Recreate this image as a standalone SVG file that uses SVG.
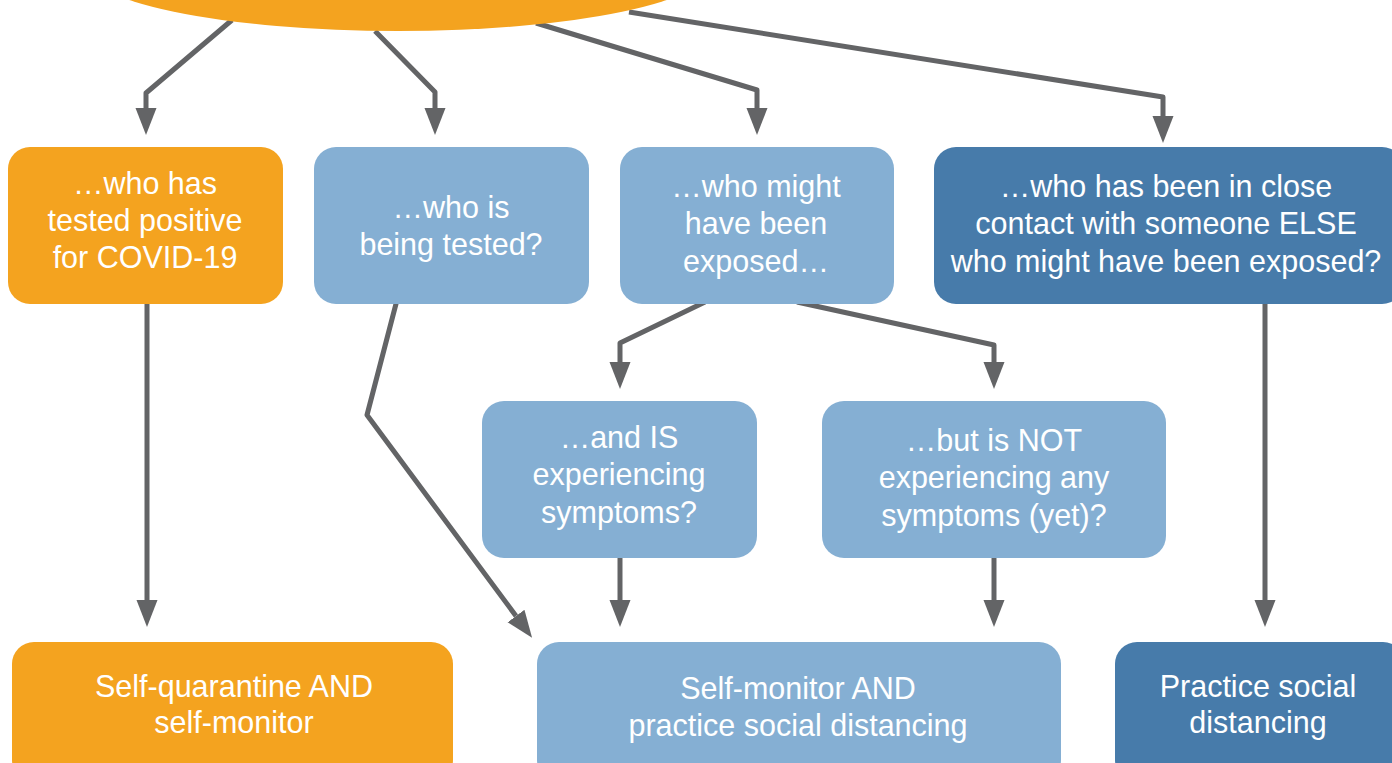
<svg xmlns="http://www.w3.org/2000/svg" width="1392" height="763" viewBox="0 0 1392 763">
<style>
.c{fill:none;stroke:#636466;stroke-width:5;stroke-linejoin:round;marker-end:url(#ah)}
.or{fill:#F4A31F}
.lb{fill:#85AFD3}
.db{fill:#477BAA}
text{font-family:"Liberation Sans",Arial,sans-serif;font-size:30.5px;fill:#ffffff;text-anchor:middle}
</style>
<defs>
<marker id="ah" markerUnits="userSpaceOnUse" markerWidth="28" markerHeight="22" refX="0" refY="10.5" orient="auto">
<path d="M0,0 L27,10.5 L0,21 z" fill="#636466"/>
</marker>
</defs>
<g id="connectors">
<path class="c" d="M232,20 L146,93 L146,108"/>
<path class="c" d="M375,31 L435,92 L435,108"/>
<path class="c" d="M536,23 L757,90 L757,108"/>
<path class="c" d="M629,12 L1163,97 L1163,116"/>
<path class="c" d="M147,300 L147,600"/>
<path class="c" d="M397,300 L367,415 L516,616"/>
<path class="c" d="M705,302 L620,343 L620,362"/>
<path class="c" d="M797,302 L994,345 L994,362"/>
<path class="c" d="M620,555 L620,600"/>
<path class="c" d="M994,555 L994,600"/>
<path class="c" d="M1265,300 L1265,600"/>
</g>
<g id="top"><ellipse class="or" cx="398" cy="-35" rx="317" ry="66"/></g>
<g id="n1"><rect class="or" x="8" y="147" width="275" height="157" rx="22"/>
<text x="145" y="194">…who has</text><text x="145" y="231">tested positive</text><text x="145" y="268">for COVID-19</text></g>
<g id="n2"><rect class="lb" x="314" y="147" width="275" height="157" rx="22"/>
<text x="451" y="218">…who is</text><text x="451" y="255">being tested?</text></g>
<g id="n3"><rect class="lb" x="620" y="147" width="274" height="157" rx="22"/>
<text x="756" y="197">…who might</text><text x="756" y="234">have been</text><text x="756" y="272">exposed…</text></g>
<g id="n4"><rect class="db" x="934" y="147" width="470" height="157" rx="22"/>
<text x="1166" y="197">…who has been in close</text><text x="1166" y="234">contact with someone ELSE</text><text x="1166" y="272">who might have been exposed?</text></g>
<g id="n5"><rect class="lb" x="482" y="401" width="275" height="157" rx="22"/>
<text x="619" y="448">…and IS</text><text x="619" y="485">experiencing</text><text x="619" y="523">symptoms?</text></g>
<g id="n6"><rect class="lb" x="822" y="401" width="344" height="157" rx="22"/>
<text x="994" y="451">…but is NOT</text><text x="994" y="488">experiencing any</text><text x="994" y="526">symptoms (yet)?</text></g>
<g id="n7"><rect class="or" x="12" y="642" width="441" height="140" rx="22"/>
<text x="234" y="697">Self-quarantine AND</text><text x="234" y="733">self-monitor</text></g>
<g id="n8"><rect class="lb" x="537" y="642" width="524" height="140" rx="22"/>
<text x="798" y="699">Self-monitor AND</text><text x="798" y="736">practice social distancing</text></g>
<g id="n9"><rect class="db" x="1115" y="642" width="290" height="140" rx="22"/>
<text x="1258" y="697">Practice social</text><text x="1258" y="733">distancing</text></g>
</svg>
